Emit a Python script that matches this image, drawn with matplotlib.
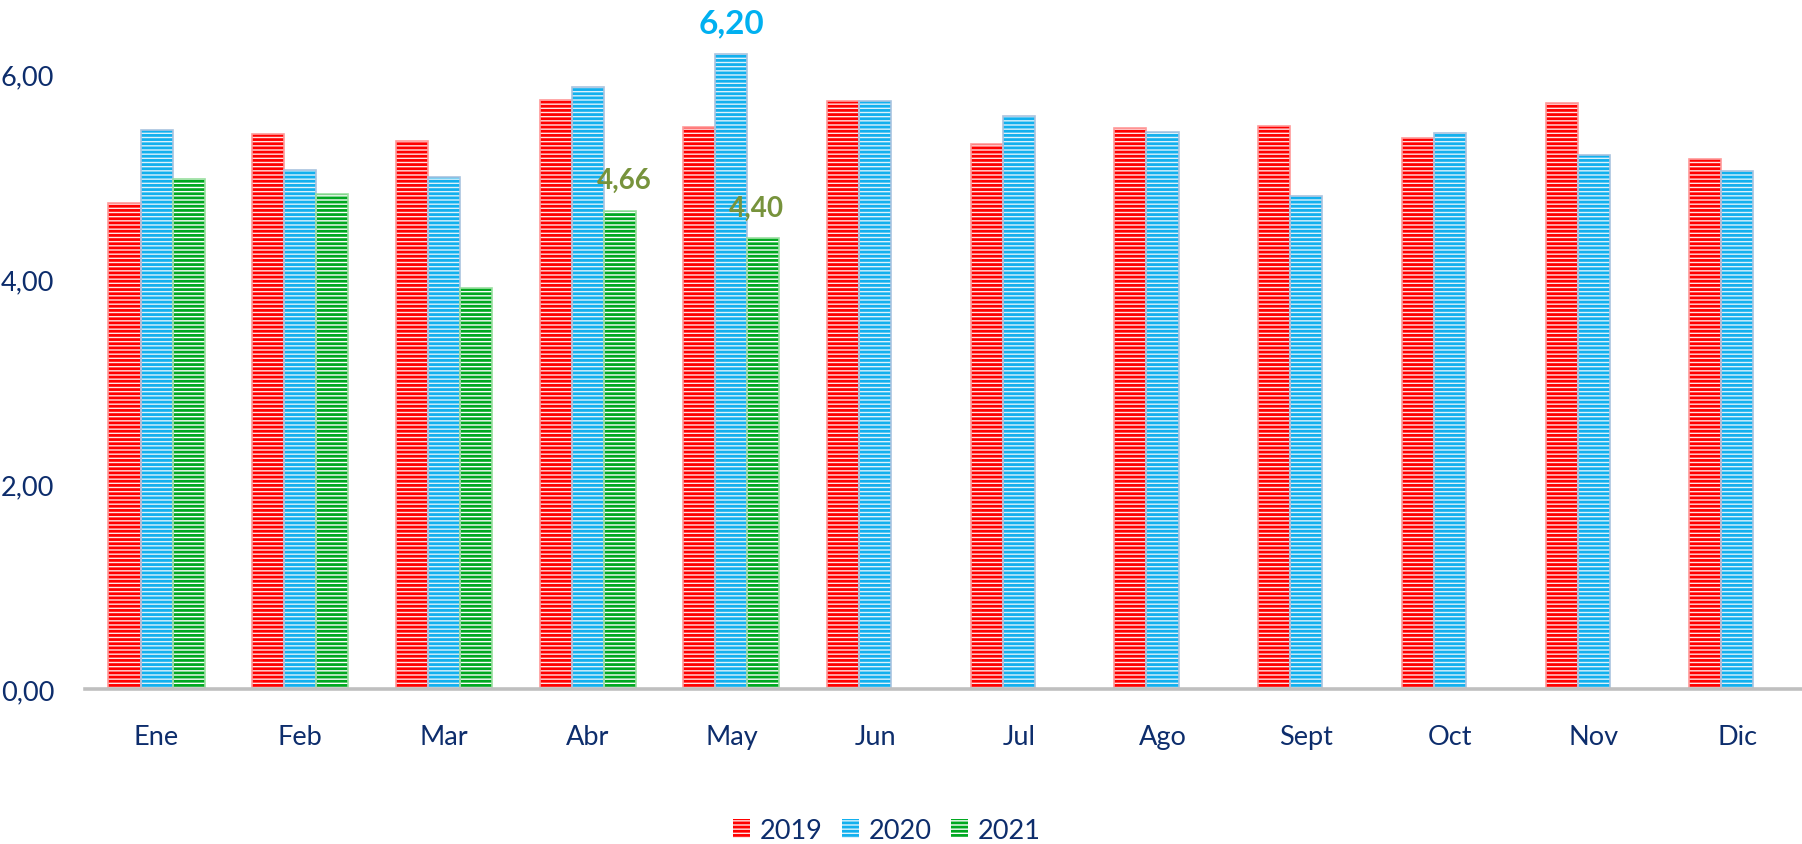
import matplotlib
matplotlib.use("Agg")
import matplotlib.pyplot as plt
import numpy as np
from matplotlib.patches import Patch

plt.rcParams['font.family'] = ['Lato', 'DejaVu Sans']
plt.rcParams['hatch.linewidth'] = 2.0

months = ["Ene", "Feb", "Mar", "Abr", "May", "Jun", "Jul", "Ago", "Sept", "Oct", "Nov", "Dic"]
v2019 = [4.74, 5.41, 5.35, 5.75, 5.48, 5.74, 5.32, 5.47, 5.49, 5.38, 5.72, 5.17]
v2020 = [5.45, 5.06, 5.00, 5.87, 6.20, 5.74, 5.59, 5.43, 4.81, 5.42, 5.21, 5.05]
v2021 = [4.98, 4.83, 3.91, 4.66, 4.40]
series_names = ["2019", "2020", "2021"]

colors = ["#FF0000", "#12B0EE", "#00A820"]
faces = ["#FFE4E4", "#DDF2FB", "#FFFFFF"]
borders = ["#FF9A9A", "#A9C3DF", "#9ADFA0"]
txt = "#0D2D6C"

fig = plt.figure(figsize=(18.02, 8.45), dpi=100)
ax = fig.add_axes([0.047, 0.1834, 0.957, 0.8006])

x = np.arange(len(months))
w = 0.223
data = [v2019, v2020, v2021]
for i, vals in enumerate(data):
    xs = x[:len(vals)] + (i - 1) * w
    ax.bar(xs, vals, width=w, color=faces[i], edgecolor=colors[i], hatch='----',
           linewidth=0, zorder=2)
    ax.bar(xs, vals, width=w, fill=False, edgecolor=borders[i], linewidth=1.2, zorder=3)

# data labels
ax.annotate("6,20", (x[4], v2020[4]), xytext=(0, 22), textcoords='offset points',
            ha='center', va='center', color="#00B0F0", fontsize=24, fontweight='bold')
ax.annotate("4,66", (x[3] + w, v2021[3]), xytext=(3, 23), textcoords='offset points',
            ha='center', va='center', color="#77933C", fontsize=20, fontweight='bold')
ax.annotate("4,40", (x[4] + w, v2021[4]), xytext=(-5, 22), textcoords='offset points',
            ha='center', va='center', color="#77933C", fontsize=20, fontweight='bold')

ax.set_xlim(-0.5, 11.5)
ax.set_ylim(0, 6.6)
ax.set_yticks([0, 2, 4, 6])
ax.set_yticklabels(["0,00", "2,00", "4,00", "6,00"])
ax.set_xticks(x)
ax.set_xticklabels(months)
ax.tick_params(axis='both', length=0, labelsize=19.5, labelcolor=txt)
ax.tick_params(axis='y', pad=22)
ax.tick_params(axis='x', pad=25)
for s in ['top', 'right', 'left']:
    ax.spines[s].set_visible(False)
ax.spines['bottom'].set_color("#BFBFBF")
ax.spines['bottom'].set_linewidth(2.6)
ax.spines['bottom'].set_zorder(4)

handles = [Patch(facecolor=faces[i], edgecolor=colors[i], hatch='----', linewidth=0)
           for i in range(3)]
leg = fig.legend(handles, series_names, loc='center', bbox_to_anchor=(0.492, 0.016),
                 ncol=3, frameon=False, fontsize=19.5, handlelength=0.65, handleheight=0.65,
                 handletextpad=0.35, columnspacing=0.7)
for t in leg.get_texts():
    t.set_color(txt)

fig.savefig("out.png", dpi=100)
